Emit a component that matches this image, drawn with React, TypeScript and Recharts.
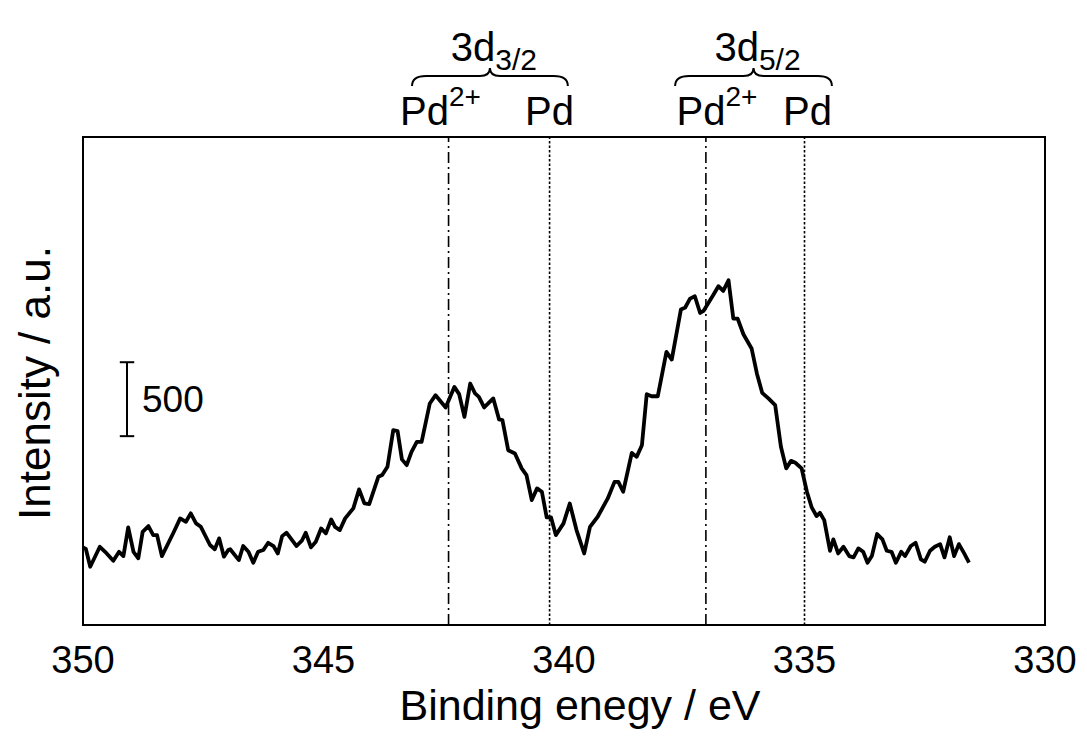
import React from 'react';
import { LineChart, Line, XAxis, YAxis, ReferenceLine, ReferenceArea } from 'recharts';

// Binding energy (eV) and intensity (counts, arbitrary offset)
const energy = [
  350.0, 349.94, 349.85, 349.65, 349.54, 349.37, 349.25, 349.16, 349.06, 348.95,
  348.85, 348.76, 348.64, 348.54, 348.46, 348.36, 348.12, 347.98, 347.86, 347.76,
  347.65, 347.55, 347.36, 347.26, 347.17, 347.07, 346.98, 346.94, 346.76, 346.67,
  346.56, 346.46, 346.36, 346.25, 346.15, 346.04, 345.95, 345.86, 345.77, 345.56,
  345.45, 345.37, 345.26, 345.16, 345.05, 344.95, 344.84, 344.76, 344.66, 344.55,
  344.38, 344.26, 344.15, 344.05, 343.86, 343.78, 343.67, 343.55, 343.46, 343.37,
  343.27, 343.17, 343.06, 342.96, 342.79, 342.67, 342.46, 342.28, 342.18, 342.07,
  341.95, 341.85, 341.77, 341.66, 341.47, 341.35, 341.28, 341.16, 341.02, 340.88,
  340.78, 340.67, 340.56, 340.46, 340.36, 340.27, 340.17, 340.01, 339.88, 339.74,
  339.58, 339.46, 339.3, 339.09, 338.95, 338.87, 338.77, 338.59, 338.49, 338.38,
  338.28, 338.18, 338.05, 337.87, 337.76, 337.57, 337.48, 337.38, 337.28, 337.17,
  337.1, 336.9, 336.79, 336.69, 336.58, 336.48, 336.39, 336.27, 336.1, 335.99,
  335.88, 335.75, 335.61, 335.49, 335.38, 335.28, 335.19, 335.06, 334.95, 334.85,
  334.75, 334.68, 334.59, 334.47, 334.4, 334.3, 334.19, 334.07, 333.98, 333.88,
  333.78, 333.69, 333.6, 333.49, 333.38, 333.29, 333.19, 333.1, 332.99, 332.91,
  332.79, 332.69, 332.58, 332.5, 332.39, 332.29, 332.18, 332.09, 331.98, 331.89,
  331.79, 331.68, 331.58,
];
const intensity = [
  525, 514, 394, 529, 495, 434, 495, 466, 660, 495,
  451, 630, 669, 608, 608, 466, 624, 721, 698, 755,
  687, 664, 541, 512, 586, 462, 507, 512, 439, 534,
  495, 421, 495, 507, 556, 534, 484, 601, 624, 534,
  570, 624, 525, 563, 653, 620, 714, 664, 642, 721,
  789, 917, 822, 818, 1002, 1014, 1070, 1318, 1311, 1120,
  1081, 1171, 1239, 1239, 1498, 1554, 1471, 1610, 1561, 1407,
  1633, 1566, 1543, 1471, 1532, 1390, 1385, 1182, 1160, 1059,
  1014, 845, 924, 901, 728, 728, 608, 687, 822, 642,
  484, 664, 732, 856, 968, 968, 901, 1164, 1137, 1216,
  1561, 1547, 1547, 1847, 1795, 2133, 2147, 2207, 2223, 2110,
  2124, 2230, 2291, 2259, 2331, 2072, 2072, 1966, 1870, 1701,
  1570, 1532, 1487, 1205, 1059, 1110, 1097, 1059, 901, 795,
  737, 759, 709, 502, 579, 484, 529, 466, 457, 518,
  495, 421, 466, 615, 579, 502, 495, 421, 495, 466,
  534, 556, 444, 428, 502, 529, 547, 457, 593, 466,
  547, 484, 421,
];

const xTicks = [350, 345, 340, 335, 330];
const xDomain = [330, 350];
const yDomain = [0, 3300];

// Peak positions (eV)
const pd2Lines = [342.4, 337.05];
const pdLines = [340.3, 335.0];
const groupNames = ['3d', '3d'];
const groupSubs = ['3/2', '5/2'];
const groupStart = [343.16, 337.69];
const groupEnd = [339.92, 334.43];

// Scale bar
const scaleX = 349.085;
const scaleLow = 1277;
const scaleHigh = 1777;
const scaleLabel = '500';

const data = energy.map((e, i) => ({ e, v: intensity[i] }));

const FONT = '"Liberation Sans", Arial, sans-serif';
const FS = 40;

const pd2Dx = [-8, 11];
const pdDx = [0, 3];

const Brace = (props: any) => {
  const vb = props.viewBox || {};
  const x1 = vb.x;
  const x2 = vb.x + vb.width;
  const top = vb.y;
  const mid = (x1 + x2) / 2;
  const yb = top - 51;
  const yl = top - 61;
  const yt = top - 69;
  const d = `M ${x1} ${yb} Q ${x1} ${yl} ${x1 + 14} ${yl} L ${mid - 10} ${yl} Q ${mid} ${yl} ${mid} ${yt} Q ${mid} ${yl} ${mid + 10} ${yl} L ${x2 - 14} ${yl} Q ${x2} ${yl} ${x2} ${yb}`;
  return (
    <g>
      <path d={d} fill="none" stroke="#000" strokeWidth={2} />
      <text x={mid + 4} y={top - 76} textAnchor="middle" fontFamily={FONT} fill="#000">
        <tspan fontSize={FS}>{props.name}</tspan>
        <tspan fontSize={30} dy={9}>{props.sub}</tspan>
      </text>
    </g>
  );
};

const PeakLabel = (props: any) => {
  const vb = props.viewBox || {};
  const cx = vb.x + (props.dx || 0);
  const y = vb.y - 12;
  return (
    <text x={cx} y={y} textAnchor="middle" fontFamily={FONT} fill="#000">
      <tspan fontSize={FS}>Pd</tspan>
      {props.sup ? <tspan fontSize={28} dy={-19}>{props.sup}</tspan> : null}
    </text>
  );
};

const XTick = (props: any) => {
  const { x, y, payload } = props;
  return (
    <text x={x} y={y + 40} textAnchor="middle" fontFamily={FONT} fontSize={38} fill="#000">
      {payload.value}
    </text>
  );
};

export default function App() {
  return (
    <div style={{ position: 'absolute', left: 0, top: 0, width: 1087, height: 737, background: '#fff' }}>
      <LineChart width={1087} height={737} data={data} margin={{ top: 137, right: 42, bottom: 0, left: 0 }}>
        <XAxis
          dataKey="e"
          type="number"
          domain={xDomain}
          reversed
          ticks={xTicks}
          tickLine={false}
          axisLine={{ stroke: '#000', strokeWidth: 2 }}
          height={112}
          tick={<XTick />}
          interval={0}
          allowDataOverflow
          label={{
            content: () => (
              <text x={580} y={720} textAnchor="middle" fontFamily={FONT} fontSize={43} fill="#000">
                Binding enegy / eV
              </text>
            ),
          }}
        />
        <YAxis
          type="number"
          domain={yDomain}
          tick={false}
          tickLine={false}
          axisLine={{ stroke: '#000', strokeWidth: 2 }}
          width={83}
          allowDataOverflow
          label={{
            content: () => (
              <text x={50} y={383} transform="rotate(-90 50 383)" textAnchor="middle" fontFamily={FONT} fontSize={44} fill="#000">
                Intensity / a.u.
              </text>
            ),
          }}
        />
        <ReferenceArea
          x1={xDomain[1]}
          x2={xDomain[0]}
          y1={yDomain[0]}
          y2={yDomain[1]}
          fill="#fff"
          fillOpacity={0}
          stroke="#000"
          strokeWidth={2}
        />
        {groupStart.map((s, i) => (
          <ReferenceArea
            key={'g' + i}
            x1={s}
            x2={groupEnd[i]}
            y1={yDomain[0]}
            y2={yDomain[1]}
            fill="#fff"
            fillOpacity={0}
            stroke="none"
            label={<Brace name={groupNames[i]} sub={groupSubs[i]} />}
          />
        ))}
        {pd2Lines.map((x, i) => (
          <ReferenceLine
            key={'p2' + i}
            x={x}
            stroke="#000"
            strokeWidth={1.6}
            strokeDasharray="11 4 2 4"
            label={<PeakLabel sup="2+" dx={pd2Dx[i]} />}
          />
        ))}
        {pdLines.map((x, i) => (
          <ReferenceLine
            key={'p' + i}
            x={x}
            stroke="#000"
            strokeWidth={1.6}
            strokeDasharray="2.5 2"
            label={<PeakLabel dx={pdDx[i]} />}
          />
        ))}
        <ReferenceLine
          segment={[{ x: scaleX, y: scaleLow }, { x: scaleX, y: scaleHigh }]}
          stroke="#000"
          strokeWidth={2}
          label={{ value: scaleLabel, position: 'right', offset: 15, fontSize: 37, fill: '#000', fontFamily: FONT }}
        />
        <ReferenceLine
          segment={[{ x: scaleX + 0.15, y: scaleLow }, { x: scaleX - 0.15, y: scaleLow }]}
          stroke="#000"
          strokeWidth={2}
        />
        <ReferenceLine
          segment={[{ x: scaleX + 0.15, y: scaleHigh }, { x: scaleX - 0.15, y: scaleHigh }]}
          stroke="#000"
          strokeWidth={2}
        />
        <Line
          type="linear"
          dataKey="v"
          stroke="#000"
          strokeWidth={3.8}
          dot={false}
          isAnimationActive={false}
          strokeLinejoin="round"
        />
      </LineChart>
    </div>
  );
}
